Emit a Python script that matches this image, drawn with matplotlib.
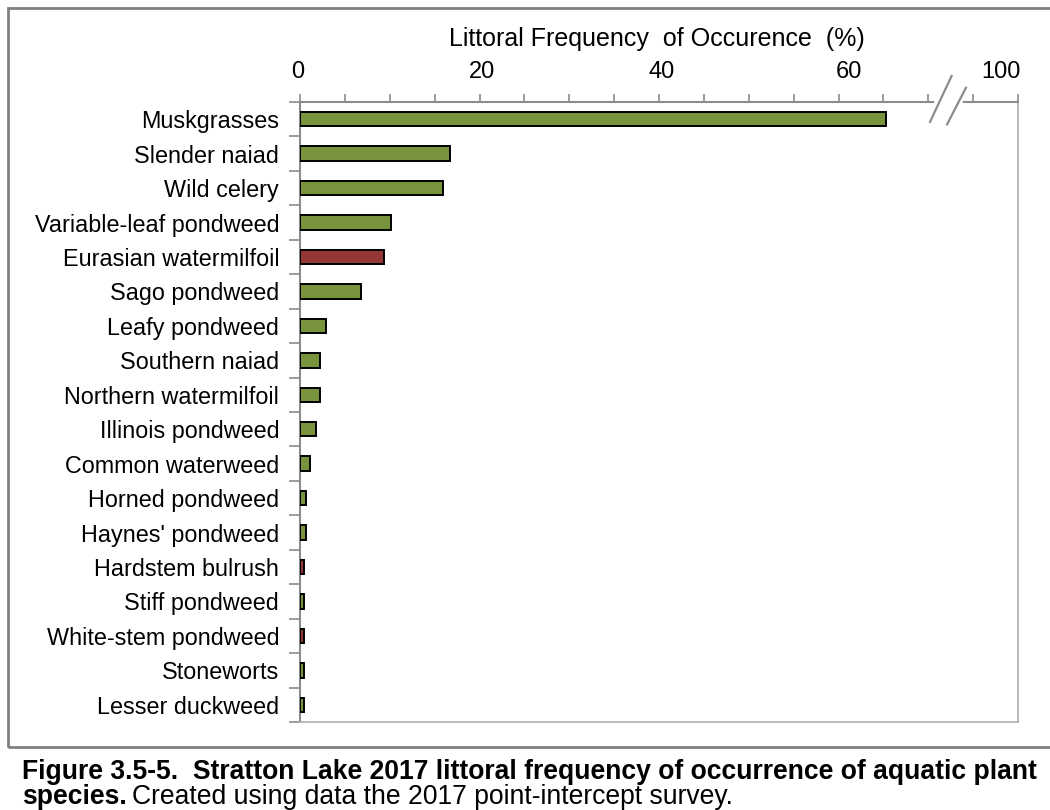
import matplotlib
matplotlib.use("Agg")
import matplotlib.pyplot as plt
from matplotlib.patches import Rectangle
from matplotlib.lines import Line2D

plt.rcParams['font.family'] = ['Liberation Sans', 'DejaVu Sans']

# species, top to bottom
species = ["Muskgrasses", "Slender naiad", "Wild celery", "Variable-leaf pondweed",
           "Eurasian watermilfoil", "Sago pondweed", "Leafy pondweed", "Southern naiad",
           "Northern watermilfoil", "Illinois pondweed", "Common waterweed",
           "Horned pondweed", "Haynes' pondweed", "Hardstem bulrush", "Stiff pondweed",
           "White-stem pondweed", "Stoneworts", "Lesser duckweed"]
freq = [65.3, 16.7, 15.9, 10.1, 9.4, 6.8, 2.9, 2.2, 2.2, 1.8, 1.1,
        0.7, 0.7, 0.4, 0.4, 0.4, 0.4, 0.4]
# True = shown in red
red = [False, False, False, False, True, False, False, False, False, False, False,
       False, False, True, False, True, False, False]

# axis is broken: the last label (100) sits at the end of a 0-80 scale
lab_pos = [-0.3, 20.3, 40.3, 61.2, 78.1]
tick_lab = ["0", "20", "40", "60", "100"]

green_c = "#77933C"
red_c = "#953735"
axis_c = "#8C8C8C"

fig = plt.figure(figsize=(10.5, 8.1), dpi=100)
ax = fig.add_axes([300/1050, 1-722/810, (1018-300)/1050, (722-102)/810])

ypos = list(range(len(species)))
colors = [red_c if r else green_c for r in red]
ax.barh(ypos, freq, height=0.42, color=colors, edgecolor="black", linewidth=1.4, zorder=3)

ax.set_xlim(0, 80)
ax.set_ylim(len(species) - 0.5, -0.5)

# tick marks every 5 on top, labels placed as text
ax.xaxis.tick_top()
ax.set_xticks(range(0, 81, 5))
ax.set_xticklabels([])
ax.tick_params(axis="x", which="both", direction="out", length=6, width=1.2, color=axis_c)
xtr = ax.get_xaxis_transform()
for p, s in zip(lab_pos, tick_lab):
    ax.text(p, 1 + 30/620, s, transform=xtr, fontsize=17, ha="center", va="center")

ax.set_yticks(ypos)
ax.set_yticklabels(species, fontsize=16.8)
ax.set_yticks([y - 0.5 for y in ypos] + [len(species) - 0.5], minor=True)
ax.tick_params(axis="y", which="major", length=0, pad=15)
ax.tick_params(axis="y", which="minor", direction="out", length=8, width=1.2, color=axis_c)

for s in ["left", "top"]:
    ax.spines[s].set_color(axis_c)
    ax.spines[s].set_linewidth(1.5)
for s in ["right", "bottom"]:
    ax.spines[s].set_color("#B0B0B0")
    ax.spines[s].set_linewidth(1.2)

# axis break marks
ax.add_line(Line2D([71.0, 73.5], [1.0, 1.0], transform=xtr, color="white",
                   linewidth=4, clip_on=False, zorder=5))
ax.add_line(Line2D([70.2, 72.6], [0.968, 1.042], transform=xtr, color=axis_c,
                   linewidth=1.6, clip_on=False, zorder=6))
ax.add_line(Line2D([72.1, 74.2], [0.964, 1.023], transform=xtr, color=axis_c,
                   linewidth=1.6, clip_on=False, zorder=6))

fig.text(657/1050, 1-39/810, "Littoral Frequency  of Occurence  (%)", fontsize=18,
         ha="center", va="center")

# outer frame and caption rule
fig.patches.append(Rectangle((8/1050, 1-747/810), 1.1, (747-8)/810, transform=fig.transFigure,
                             fill=False, edgecolor="#808080", linewidth=2))

fig.text(22/1050, 1-772/810,
         "Figure 3.5-5.  Stratton Lake 2017 littoral frequency of occurrence of aquatic plant",
         fontsize=19.1, fontweight="bold", ha="left", va="center")
t = fig.text(22/1050, 1-797/810, "species.", fontsize=19.1, fontweight="bold",
             ha="left", va="center")
fig.canvas.draw()
bb = t.get_window_extent()
fig.text(bb.x1/1050 + 0.005, 1-797/810, "Created using data the 2017 point-intercept survey.",
         fontsize=19.1, ha="left", va="center")

fig.savefig("out.png", dpi=100)
